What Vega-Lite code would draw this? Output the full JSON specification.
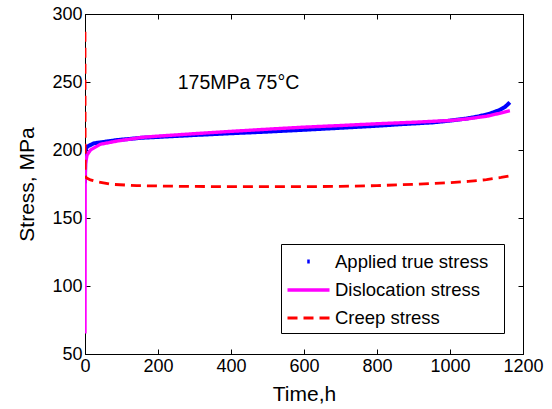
{
  "$schema": "https://vega.github.io/schema/vega-lite/v6.json",
  "width": 438,
  "height": 340,
  "autosize": {"type": "none"},
  "padding": {"left": 85, "top": 14, "right": 29, "bottom": 55},
  "background": "white",
  "config": {
    "font": "Liberation Sans",
    "view": {"stroke": "black", "strokeWidth": 1},
    "axis": {
      "grid": false,
      "domainColor": "black",
      "domainWidth": 1,
      "tickColor": "black",
      "tickSize": -5,
      "tickWidth": 1,
      "labelFlush": false,
      "labelOverlap": false,
      "labelFont": "Liberation Sans",
      "labelFontSize": 18,
      "labelColor": "black",
      "titleFont": "Liberation Sans",
      "titleFontSize": 21,
      "titleFontWeight": "normal",
      "titleColor": "black"
    }
  },
  "datasets": {
    "curves": [
      {"series": "Applied true stress", "t": 0, "stress": 175.5},
      {"series": "Applied true stress", "t": 0.3, "stress": 185},
      {"series": "Applied true stress", "t": 0.8, "stress": 195},
      {"series": "Applied true stress", "t": 1.5, "stress": 200},
      {"series": "Applied true stress", "t": 5.5, "stress": 202.4},
      {"series": "Applied true stress", "t": 24, "stress": 204.9},
      {"series": "Applied true stress", "t": 88, "stress": 207.3},
      {"series": "Applied true stress", "t": 156, "stress": 209},
      {"series": "Applied true stress", "t": 300, "stress": 211},
      {"series": "Applied true stress", "t": 400, "stress": 212.3},
      {"series": "Applied true stress", "t": 500, "stress": 213.5},
      {"series": "Applied true stress", "t": 589, "stress": 214.7},
      {"series": "Applied true stress", "t": 700, "stress": 216.3},
      {"series": "Applied true stress", "t": 800, "stress": 217.8},
      {"series": "Applied true stress", "t": 862, "stress": 218.9},
      {"series": "Applied true stress", "t": 953, "stress": 220.3},
      {"series": "Applied true stress", "t": 1000, "stress": 221.6},
      {"series": "Applied true stress", "t": 1045, "stress": 223.1},
      {"series": "Applied true stress", "t": 1080, "stress": 224.8},
      {"series": "Applied true stress", "t": 1110, "stress": 226.8},
      {"series": "Applied true stress", "t": 1136, "stress": 229.4},
      {"series": "Applied true stress", "t": 1150, "stress": 231.5},
      {"series": "Applied true stress", "t": 1164, "stress": 235},
      {"series": "Dislocation stress", "t": 0, "stress": 65},
      {"series": "Dislocation stress", "t": 0.5, "stress": 180},
      {"series": "Dislocation stress", "t": 1.5, "stress": 190},
      {"series": "Dislocation stress", "t": 5.5, "stress": 196.3},
      {"series": "Dislocation stress", "t": 15, "stress": 200},
      {"series": "Dislocation stress", "t": 42, "stress": 204.2},
      {"series": "Dislocation stress", "t": 88, "stress": 206.6},
      {"series": "Dislocation stress", "t": 156, "stress": 209.3},
      {"series": "Dislocation stress", "t": 200, "stress": 210.2},
      {"series": "Dislocation stress", "t": 300, "stress": 212},
      {"series": "Dislocation stress", "t": 400, "stress": 213.7},
      {"series": "Dislocation stress", "t": 500, "stress": 215.3},
      {"series": "Dislocation stress", "t": 600, "stress": 216.8},
      {"series": "Dislocation stress", "t": 700, "stress": 218},
      {"series": "Dislocation stress", "t": 800, "stress": 219.3},
      {"series": "Dislocation stress", "t": 900, "stress": 220.4},
      {"series": "Dislocation stress", "t": 1000, "stress": 221.7},
      {"series": "Dislocation stress", "t": 1045, "stress": 222.8},
      {"series": "Dislocation stress", "t": 1100, "stress": 224.8},
      {"series": "Dislocation stress", "t": 1136, "stress": 227},
      {"series": "Dislocation stress", "t": 1164, "stress": 228.9},
      {"series": "Creep stress", "t": 0, "stress": 287},
      {"series": "Creep stress", "t": 0.5, "stress": 185},
      {"series": "Creep stress", "t": 2, "stress": 180},
      {"series": "Creep stress", "t": 6, "stress": 179.2},
      {"series": "Creep stress", "t": 15, "stress": 178},
      {"series": "Creep stress", "t": 33, "stress": 176.7},
      {"series": "Creep stress", "t": 70, "stress": 174.8},
      {"series": "Creep stress", "t": 142, "stress": 173.8},
      {"series": "Creep stress", "t": 260, "stress": 173.3},
      {"series": "Creep stress", "t": 400, "stress": 173},
      {"series": "Creep stress", "t": 500, "stress": 173},
      {"series": "Creep stress", "t": 589, "stress": 173},
      {"series": "Creep stress", "t": 700, "stress": 173.3},
      {"series": "Creep stress", "t": 800, "stress": 173.8},
      {"series": "Creep stress", "t": 900, "stress": 174.8},
      {"series": "Creep stress", "t": 1000, "stress": 176},
      {"series": "Creep stress", "t": 1050, "stress": 176.9},
      {"series": "Creep stress", "t": 1100, "stress": 178.2},
      {"series": "Creep stress", "t": 1140, "stress": 179.8},
      {"series": "Creep stress", "t": 1164, "stress": 181}
    ],
    "note": [
      {"t": 254, "stress": 245, "label": "175MPa 75°C"}
    ]
  },
  "resolve": {"axis": {"x": "independent", "y": "independent"}},
  "layer": [
    {
      "data": {"name": "curves"},
      "mark": {"type": "line", "clip": true},
      "encoding": {
        "x": {
          "field": "t", "type": "quantitative",
          "scale": {"domain": [0, 1200], "nice": false},
          "axis": {"orient": "bottom", "title": "Time,h", "format": "d", "values": [0, 200, 400, 600, 800, 1000, 1200], "labelPadding": 8, "titlePadding": 8}
        },
        "y": {
          "field": "stress", "type": "quantitative",
          "scale": {"domain": [50, 300], "nice": false, "zero": false},
          "axis": {"orient": "left", "title": "Stress, MPa", "format": "d", "values": [50, 100, 150, 200, 250, 300], "labelPadding": 8, "titlePadding": 14}
        },
        "color": {
          "field": "series", "type": "nominal",
          "scale": {
            "domain": ["Applied true stress", "Dislocation stress", "Creep stress"],
            "range": ["#0000ff", "#ff00ff", "#ff0000"]
          },
          "legend": {
            "title": null,
            "orient": "none",
            "legendX": 196,
            "legendY": 230,
            "direction": "vertical",
            "strokeColor": "black",
            "fillColor": "white",
            "padding": 5,
            "cornerRadius": 0,
            "labelFont": "Liberation Sans",
            "labelFontSize": 18.5,
            "labelColor": "black",
            "labelOffset": 14,
            "labelLimit": 400,
            "labelExpr": "datum.label + '\u00a0\u00a0\u200b'",
            "symbolType": "M-2,0H2",
            "symbolSize": 441,
            "symbolStrokeWidth": 2.5,
            "symbolOffset": 10,
            "rowPadding": 6.5,
            "encode": {
              "symbols": {
                "update": {
                  "shape": {"signal": "datum.value === 'Applied true stress' ? 'M-0.12,0H0.12' : 'M-2,0H2'"}
                }
              }
            }
          }
        },
        "strokeDash": {
          "field": "series", "type": "nominal",
          "scale": {
            "domain": ["Applied true stress", "Dislocation stress", "Creep stress"],
            "range": [[1, 0], [1, 0], [10, 6]]
          },
          "legend": null
        },
        "strokeWidth": {
          "field": "series", "type": "nominal",
          "scale": {
            "domain": ["Applied true stress", "Dislocation stress", "Creep stress"],
            "range": [4, 2.8, 2.5]
          },
          "legend": null
        }
      }
    },
    {
      "data": {"name": "note"},
      "mark": {"type": "text", "align": "left", "baseline": "alphabetic", "font": "Liberation Sans", "fontSize": 19.5, "color": "black"},
      "encoding": {
        "x": {
          "field": "t", "type": "quantitative",
          "axis": {"orient": "top", "title": null, "labels": false, "values": [0, 200, 400, 600, 800, 1000, 1200]}
        },
        "y": {
          "field": "stress", "type": "quantitative",
          "axis": {"orient": "right", "title": null, "labels": false, "values": [50, 100, 150, 200, 250, 300]}
        },
        "text": {"field": "label"}
      }
    }
  ]
}
